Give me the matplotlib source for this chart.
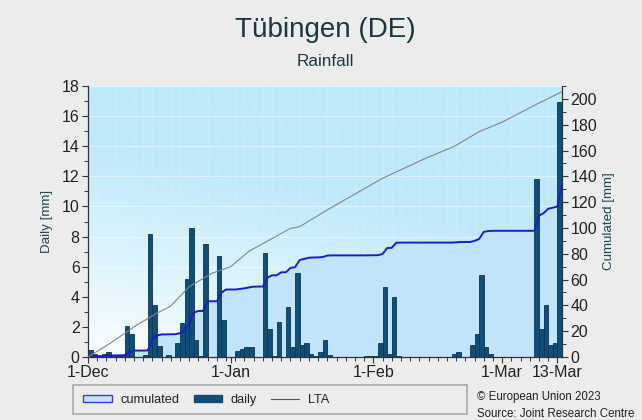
import numpy as np
import matplotlib.pyplot as plt
from matplotlib.patches import Patch, Rectangle
from matplotlib.lines import Line2D
from matplotlib.ticker import MultipleLocator

plt.rcParams['font.family'] = ['Liberation Sans', 'DejaVu Sans']

# ------------------------------------------------------------
# Data (day 0 = 1-Dec, day 102 = 13-Mar)
# ------------------------------------------------------------
daily = [0.45, 0.2, 0.0, 0.2, 0.3, 0.1, 0.05, 0.1, 2.06, 1.53,      # 0-9
         0.0, 0.0, 0.15, 8.19, 3.43, 0.73, 0.0, 0.15, 0.0, 0.9,      # 10-19
         2.24, 5.16, 8.59, 1.13, 0.05, 7.48, 0.0, 0.0, 6.68, 2.43,   # 20-29
         0.0, 0.0, 0.42, 0.53, 0.66, 0.66, 0.0, 0.0, 6.88, 1.84,     # 30-39
         0.05, 2.32, 0.0, 3.34, 0.64, 5.56, 0.82, 0.9, 0.2, 0.05,    # 40-49
         0.3, 1.13, 0.15, 0.0, 0.0, 0.0, 0.0, 0.0, 0.0, 0.0,         # 50-59
         0.05, 0.05, 0.05, 0.9, 4.63, 0.2, 3.96, 0.05, 0.0, 0.0,     # 60-69
         0.0, 0.0, 0.0, 0.0, 0.0, 0.0, 0.0, 0.0, 0.0, 0.2,           # 70-79
         0.3, 0.0, 0.0, 0.82, 1.53, 5.47, 0.64, 0.2, 0.0, 0.0,       # 80-89
         0.0, 0.0, 0.0, 0.0, 0.0, 0.0, 0.0, 11.8, 1.84, 3.43,        # 90-99
         0.82, 0.9, 16.95]                                           # 100-102

# long term average cumulated
lta_days = [0, 5, 10.6, 15, 17.8, 22, 27, 31, 35, 44, 46, 52, 64, 74, 79.5, 85, 90, 97, 103]
lta_vals = [0, 11, 24.8, 34, 39, 54.5, 65, 70, 82, 99.7, 101, 114, 138.5, 155, 163, 174.6, 182, 195, 205.6]

tick_days = [0, 31, 62, 90, 102]
tick_labels = ['1-Dec', '1-Jan', '1-Feb', '1-Mar', '13-Mar']

days = np.arange(len(daily))
cum_x = np.concatenate([[0], days + 1])
cum_y = np.concatenate([[0], np.cumsum(daily)])

# ------------------------------------------------------------
# Figure
# ------------------------------------------------------------
fig = plt.figure(figsize=(6.42, 4.2), dpi=100, facecolor='#ececec')
ax = fig.add_axes([88/642, 1-357/420, 474/642, 271/420])
ax_r = ax.twinx()      # background, fill and right ticks
ax_t = ax.twinx()      # lines on top of the bars
ax_r.set_zorder(0)
ax.set_zorder(1)
ax_t.set_zorder(2)
ax.patch.set_visible(False)
ax_t.patch.set_visible(False)

# gradient background
ny, nx = 100, 100
yy, xx = np.mgrid[0:1:ny*1j, 0:1:nx*1j]
t = np.clip(yy * 1.25 + xx * 0.45, 0, 1)
top = np.array([189, 233, 250]) / 255
bot = np.array([250, 253, 255]) / 255
img = bot + (top - bot) * t[..., None]
ax_r.imshow(img, origin='lower', extent=[0, 103, 0, 210], aspect='auto', zorder=0)

# faint grid behind everything (left-axis steps of 2 mm, 2-day steps)
for v in range(2, 19, 2):
    ax_r.plot([0, 1], [v, v], transform=ax.get_yaxis_transform(),
              color='white', lw=0.7, alpha=0.5, zorder=0.5)
for d in range(0, 104, 2):
    ax_r.axvline(d, color='white', lw=0.5, alpha=0.2, zorder=0.5)

ax_r.fill_between(cum_x, cum_y, color='#c2e4fa', zorder=1, lw=0)

ax.bar(days, daily, width=1.0, align='edge', color='#0f4e79',
       edgecolor='#0a3656', lw=0.6, zorder=2)

ax_t.plot(cum_x, cum_y, color='#1b1bd6', lw=1.4)
ax_t.plot(lta_days, lta_vals, color='#858585', lw=0.8)

for a in (ax, ax_r, ax_t):
    a.set_xlim(0, 103)
ax.set_ylim(0, 18)
ax_r.set_ylim(0, 210)
ax_t.set_ylim(0, 210)
ax_t.yaxis.set_visible(False)

for s in ax_t.spines.values():
    s.set_visible(False)
for s in ax_r.spines.values():
    s.set_visible(False)
ax.spines['top'].set_visible(False)
for s in ('left', 'bottom', 'right'):
    ax.spines[s].set_color('#333333')
    ax.spines[s].set_linewidth(0.9)

ax.set_xticks(tick_days)
ax.set_xticklabels(tick_labels)
ax.xaxis.set_minor_locator(MultipleLocator(2))
ax.yaxis.set_major_locator(MultipleLocator(2))
ax.yaxis.set_minor_locator(MultipleLocator(1))
ax_r.yaxis.set_major_locator(MultipleLocator(20))
ax_r.yaxis.set_minor_locator(MultipleLocator(10))
ax_r.yaxis.tick_right()

ax.tick_params(axis='both', which='major', length=4, width=0.8, color='#333333',
               labelsize=11.5, labelcolor='#222222', pad=2)
ax.tick_params(axis='both', which='minor', length=3, width=0.7, color='#333333')
ax_r.tick_params(axis='y', which='major', length=4, width=0.8, color='#333333',
                 labelsize=11.5, labelcolor='#222222', pad=2)
ax_r.tick_params(axis='y', which='minor', length=3, width=0.7, color='#333333')
ax_r.tick_params(axis='x', which='both', bottom=False, labelbottom=False)
ax_t.tick_params(axis='x', which='both', bottom=False, labelbottom=False)

ax.set_ylabel('Daily [mm]', fontsize=9.6, color='#1d4656', labelpad=6)
ax_r.set_ylabel('Cumulated [mm]', fontsize=9.6, color='#1d4656', labelpad=4)

fig.text(0.507, 1-30/420, 'Tübingen (DE)', ha='center', va='center',
         fontsize=20, color='#163845')
fig.text(0.507, 1-62/420, 'Rainfall', ha='center', va='center',
         fontsize=12.3, color='#1d3a44')

# legend box
fig.patches.append(Rectangle((73/642, 1-414/420), 394/642, 29/420,
                             transform=fig.transFigure, facecolor='#ececec',
                             edgecolor='#ababab', lw=1.2))
handles = [Patch(facecolor='#c2e4fa', edgecolor='#3a3ae0', lw=1.0),
           Patch(facecolor='#0f4e79', edgecolor='#0f4e79'),
           Line2D([], [], color='#555555', lw=0.8)]
fig.legend(handles, ['cumulated', 'daily', 'LTA'], ncol=3,
           loc='center left', bbox_to_anchor=(77/642, 1-400/420),
           frameon=False, fontsize=9.2, handlelength=2.2, handleheight=0.55,
           handletextpad=0.7, columnspacing=1.1, borderpad=0,
           labelcolor='#222222')

fig.text(477/642, 1-397/420, '© European Union 2023', ha='left', va='center',
         fontsize=8.3, color='#222222')
fig.text(477/642, 1-414/420, 'Source: Joint Research Centre', ha='left', va='center',
         fontsize=8.3, color='#222222')

fig.savefig('out.png', dpi=100, facecolor=fig.get_facecolor())
